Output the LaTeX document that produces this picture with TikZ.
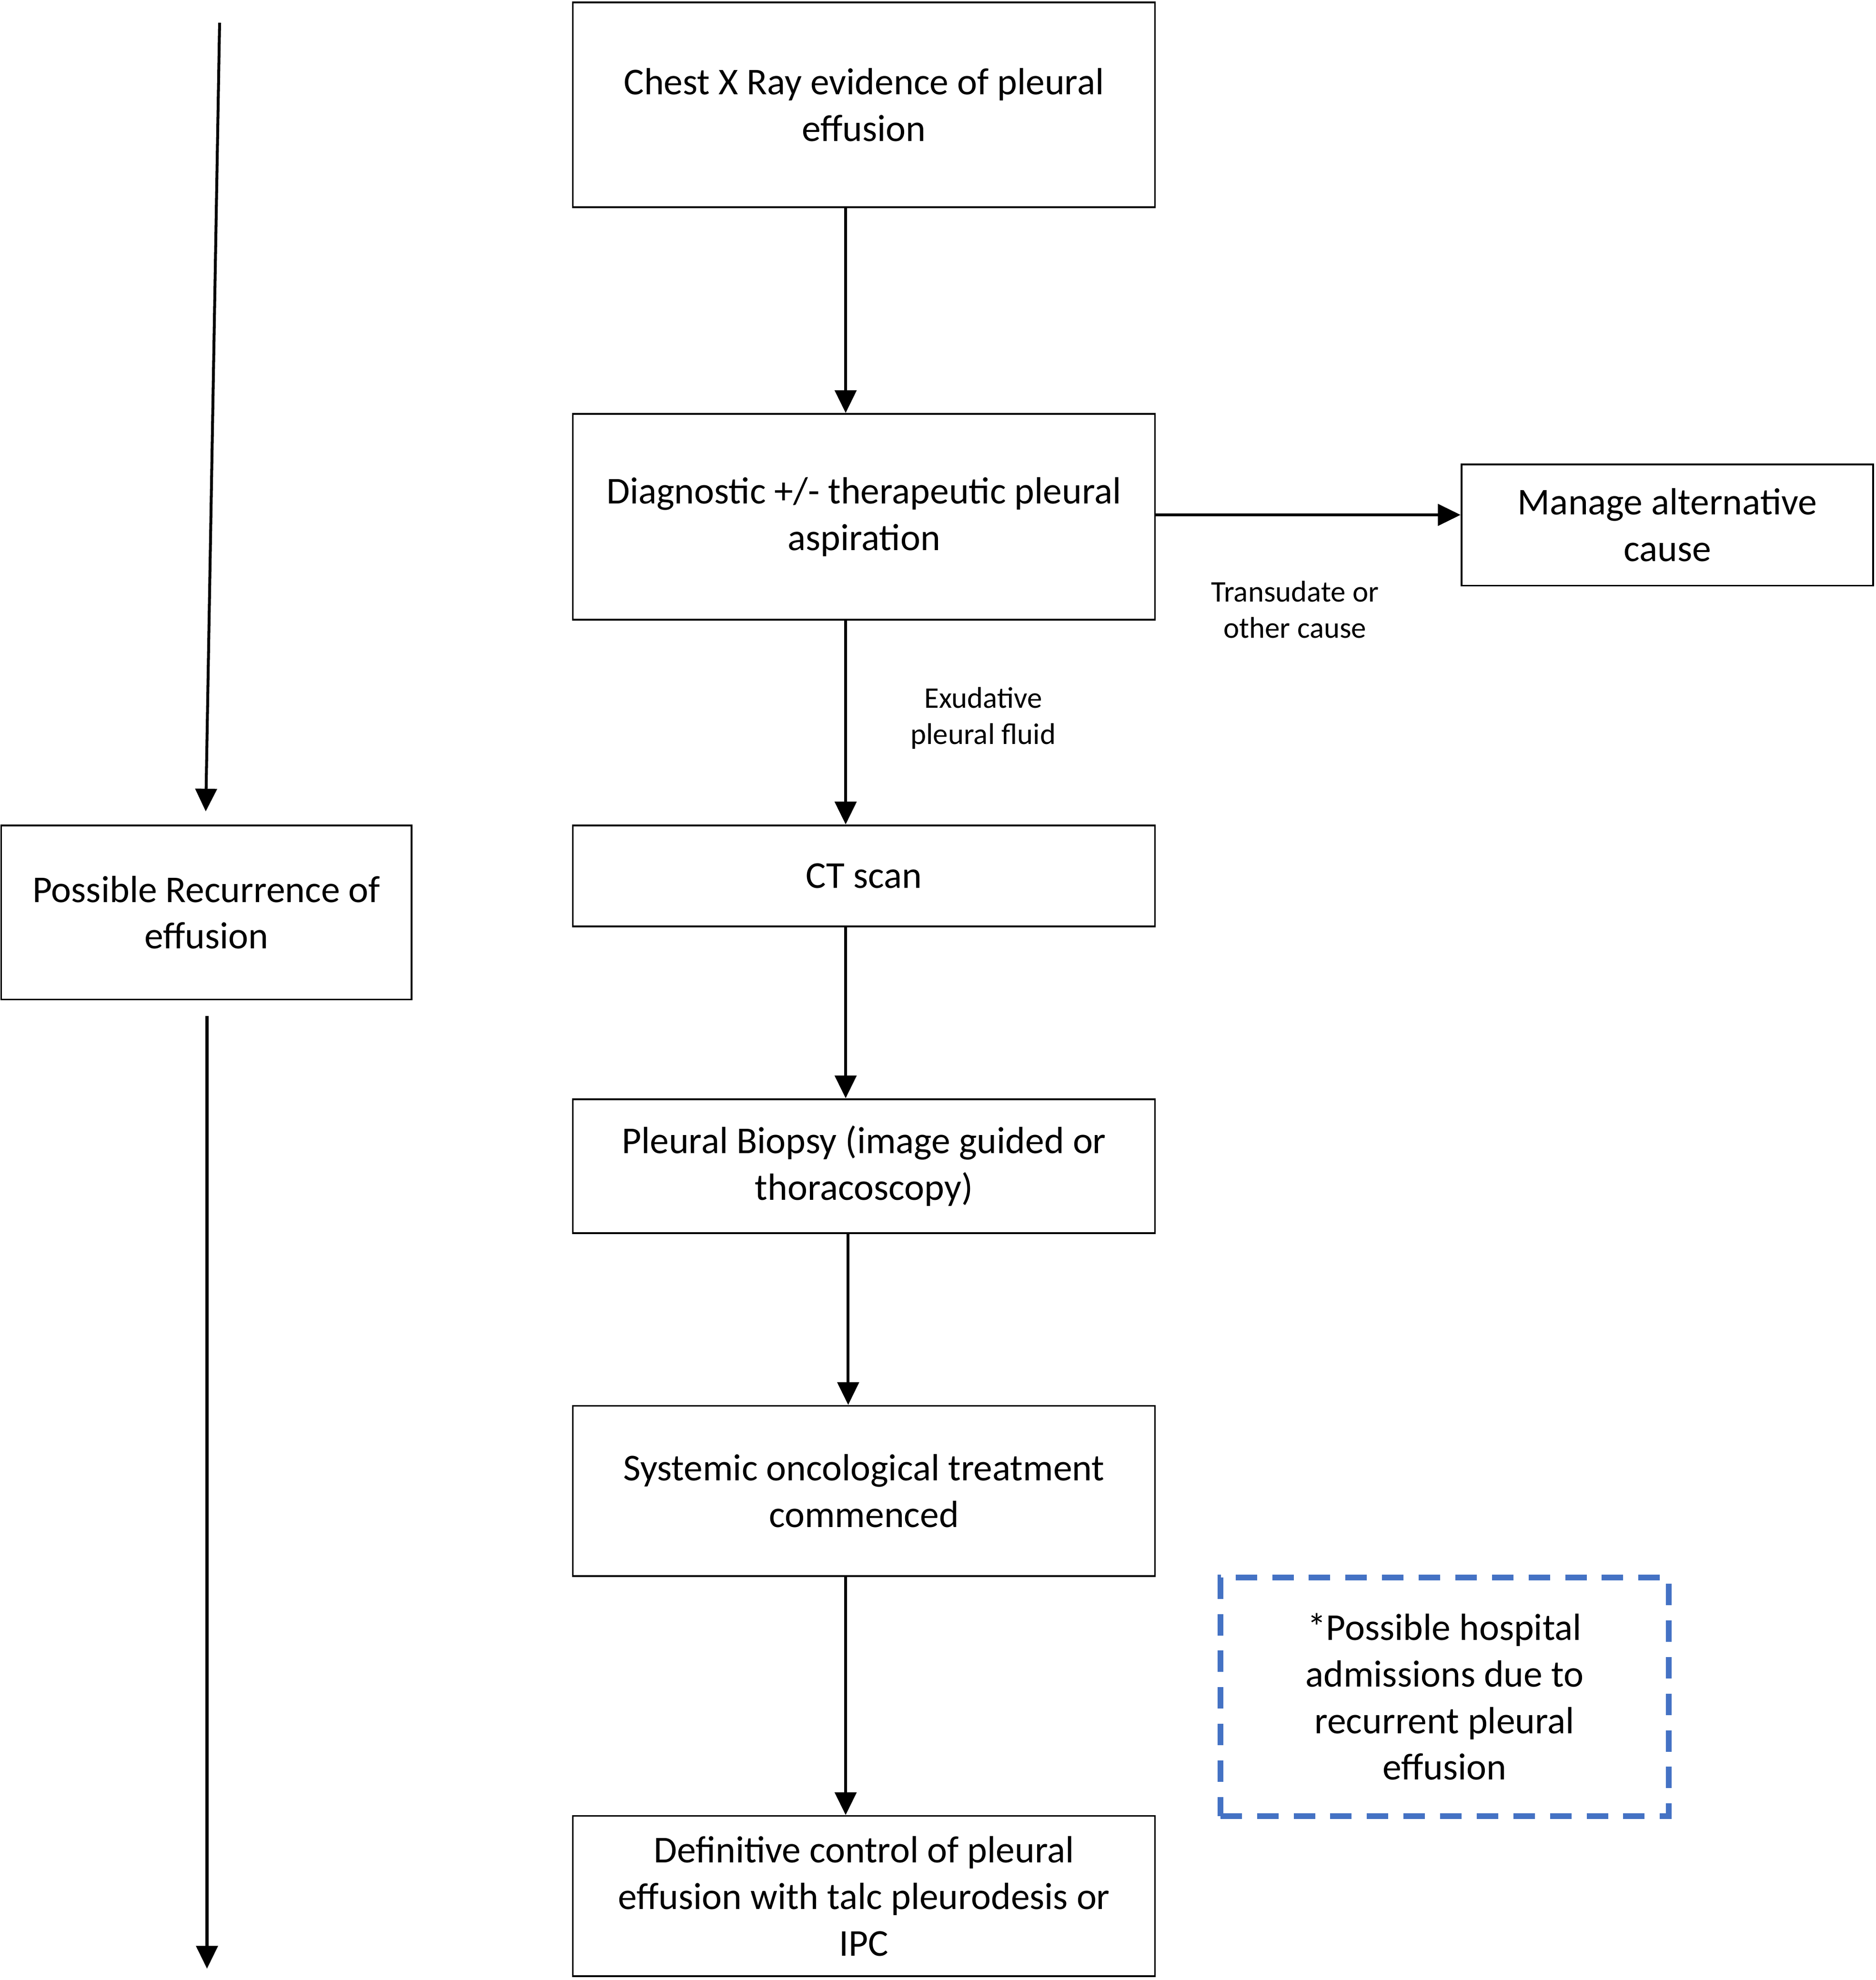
\documentclass[tikz,border=0pt]{standalone}
\usepackage{fontspec}
\setmainfont{Carlito}
\usetikzlibrary{arrows.meta}
\begin{document}
\begin{tikzpicture}[x=0.01cm,y=-0.01cm,
  box/.style={draw=black,line width=0.4pt,inner sep=0pt,align=center,
    font=\fontsize{8.54pt}{10.5pt}\selectfont},
  lbl/.style={inner sep=0pt,align=center,font=\fontsize{6.75pt}{8.2pt}\selectfont},
  flow/.style={line width=0.65pt,-{Triangle[width=0.17cm,length=0.18cm]}},
  dashbox/.style={draw=blue4,line width=1.3pt,dash pattern=on 0.17cm off 0.12cm,
    inner sep=0pt,align=center,font=\fontsize{8.54pt}{10.5pt}\selectfont}]
\definecolor{blue4}{HTML}{4472C4}
\useasboundingbox (0,0) rectangle (1486,1569);
% main column
\node[box,minimum width=4.61cm,minimum height=1.62cm] (b1) at (684.5,83) {Chest X Ray evidence of pleural\\effusion};
\node[box,minimum width=4.61cm,minimum height=1.63cm] (b2) at (684.5,409.5) {Diagnostic +/- therapeutic pleural\\aspiration};
\node[box,minimum width=3.26cm,minimum height=0.96cm] (alt) at (1321,416) {Manage alternative\\cause};
\node[box,minimum width=4.61cm,minimum height=0.80cm] (ct) at (684.5,694) {CT scan};
\node[box,minimum width=4.61cm,minimum height=1.06cm] (bio) at (684.5,924) {Pleural Biopsy (image guided or\\thoracoscopy)};
\node[box,minimum width=4.61cm,minimum height=1.35cm] (sys) at (684.5,1181.5) {Systemic oncological treatment\\commenced};
\node[box,minimum width=4.61cm,minimum height=1.27cm] (def) at (684.5,1502.5) {Definitive control of pleural\\effusion with talc pleurodesis or\\IPC};
\node[box,minimum width=3.25cm,minimum height=1.38cm] (rec) at (163.5,723) {Possible Recurrence of\\effusion};
\node[dashbox,minimum width=3.55cm,minimum height=1.89cm] (hosp) at (1144.5,1344.5) {*Possible hospital\\admissions due to\\recurrent pleural\\effusion};
% labels
\node[lbl] (trans) at (1026,483) {Transudate or\\other cause};
\node[lbl] (exu) at (779,569) {Exudative\\pleural fluid};
% connector x positions
\coordinate (ax) at (670,0);
\coordinate (bx) at (672,0);
\coordinate (ay) at (0,408);
\draw[flow] (b1.south -| ax) -- (b2.north -| ax);
\draw[flow] (b2.south -| ax) -- (ct.north -| ax);
\draw[flow] (ct.south -| ax) -- (bio.north -| ax);
\draw[flow] (bio.south -| bx) -- (sys.north -| bx);
\draw[flow] (sys.south -| ax) -- (def.north -| ax);
\draw[flow] (b2.east |- ay) -- (alt.west |- ay);
% left timeline arrows
\coordinate (l1s) at (174,18);
\coordinate (l1e) at (163,643);
\coordinate (l2s) at (164,805);
\coordinate (l2e) at (164,1560);
\draw[flow] (l1s) -- (l1e);
\draw[flow] (l2s) -- (l2e);
\end{tikzpicture}
\end{document}
